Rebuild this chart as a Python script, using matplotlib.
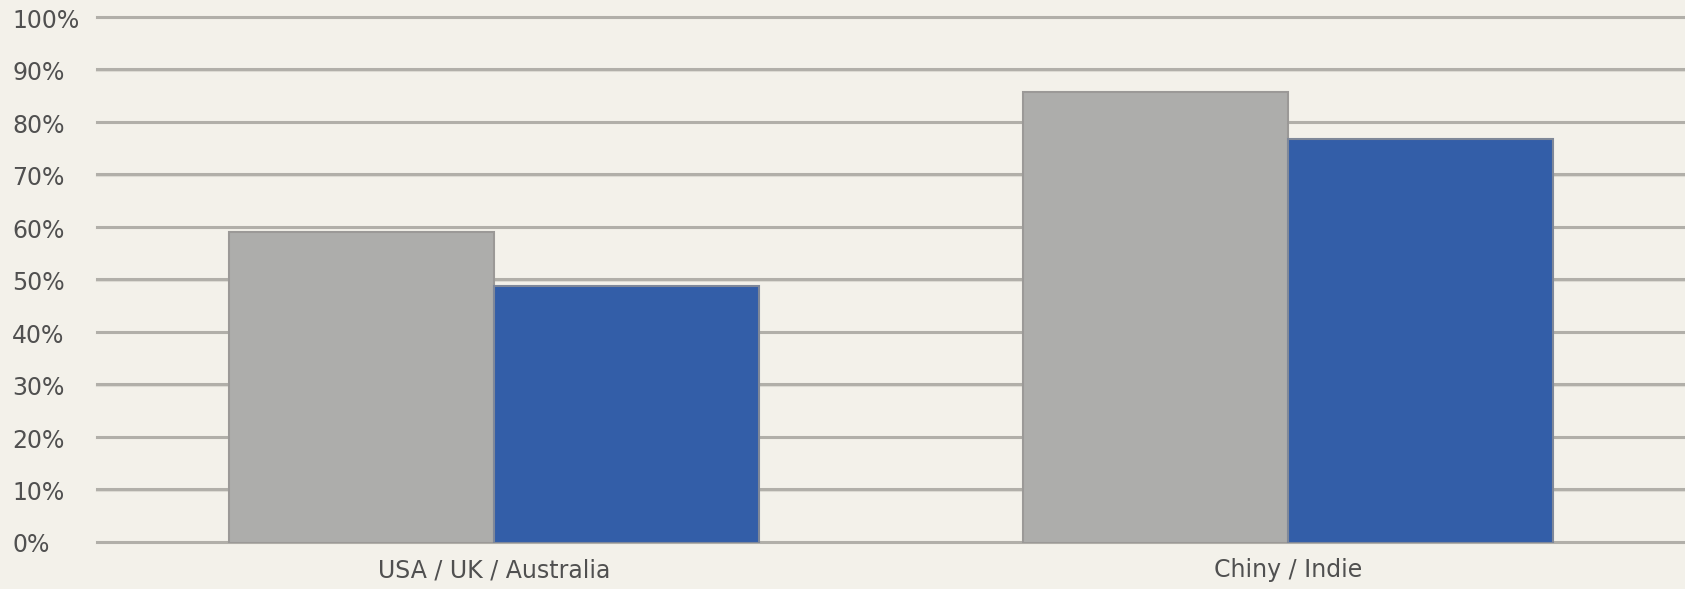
import numpy as np
from matplotlib import pyplot as plt

# data
categories = ["USA / UK / Australia", "Chiny / Indie"]
grey_values = [59.2, 85.9]
blue_values = [49.0, 77.0]
ytick_values = [0, 10, 20, 30, 40, 50, 60, 70, 80, 90, 100]
ytick_labels = ["%d%%" % v for v in ytick_values]

bg = "#f3f1ea"

fig = plt.figure(figsize=(16.85, 5.89), dpi=100, facecolor=bg)
ax = fig.add_axes([0.0576, 0.0781, 0.9424, 0.8913])
ax.set_facecolor(bg)

x = np.arange(len(categories))
w = 0.334

# grid lines behind bars
for v in ytick_values:
    ax.axhline(v, color="#dedcd5", lw=1.5, zorder=1, clip_on=False)
    ax.axhline(v + 0.25, color="#b1afa9", lw=2.2, zorder=1, clip_on=False)

ax.bar(x - w / 2, grey_values, w, color="#adadab", edgecolor="#9b9997", lw=1.5, zorder=2)
ax.bar(x + w / 2, blue_values, w, color="#335ea8", edgecolor="#7f8899", lw=1.5, zorder=2)

ax.set_xlim(-0.5, 1.5)
ax.set_ylim(0, 100)
ax.set_xticks(x)
ax.set_xticklabels(categories, fontsize=17, color="#505050")
ax.set_yticks(ytick_values)
ax.set_yticklabels(ytick_labels, fontsize=17, color="#505050")
for lab in ax.get_yticklabels():
    lab.set_horizontalalignment("left")
ax.tick_params(axis="y", length=0, pad=61)
ax.tick_params(axis="x", length=0, pad=11)

for s in ax.spines.values():
    s.set_visible(False)

plt.savefig("out.png", dpi=100, facecolor=bg)
